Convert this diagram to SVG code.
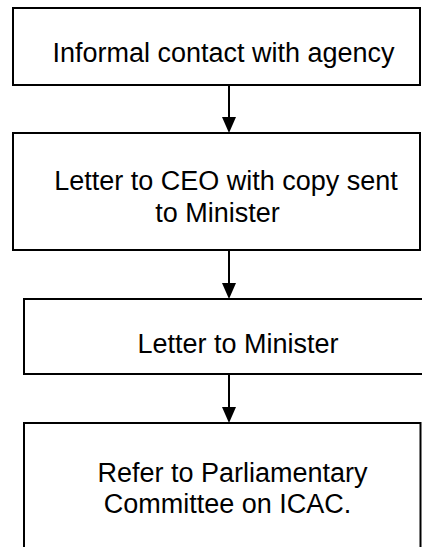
<svg xmlns="http://www.w3.org/2000/svg" width="422" height="547" viewBox="0 0 422 547">
  <style>
    .box { fill: #ffffff; stroke: #000000; stroke-width: 2; }
    .lbl { font-family: "Liberation Sans", Arial, sans-serif; font-size: 27px; fill: #000000; text-anchor: middle; }
    .conn { stroke: #000000; stroke-width: 2; fill: none; }
  </style>
  <defs>
    <marker id="arrow" viewBox="0 0 16 14" markerWidth="16" markerHeight="14" refX="0" refY="7" orient="auto" markerUnits="userSpaceOnUse">
      <path d="M0,0 L16,7 L0,14 Z" fill="#000000"/>
    </marker>
  </defs>
  <rect width="422" height="547" fill="#ffffff"/>
  <g id="node-informal">
    <rect class="box" x="13" y="8" width="407" height="77"/>
    <text class="lbl" x="223.5" y="62">Informal contact with agency</text>
  </g>
  <g id="node-letter-ceo">
    <rect class="box" x="13" y="133" width="407" height="117"/>
    <text class="lbl" x="226" y="190">Letter to CEO with copy sent</text>
    <text class="lbl" x="217.5" y="222">to Minister</text>
  </g>
  <g id="node-letter-minister">
    <rect class="box" x="24" y="299" width="400" height="75"/>
    <text class="lbl" x="238" y="353">Letter to Minister</text>
  </g>
  <g id="node-refer">
    <rect class="box" x="24" y="423" width="396.5" height="130"/>
    <text class="lbl" x="232.5" y="482">Refer to Parliamentary</text>
    <text class="lbl" x="227.5" y="513">Committee on ICAC.</text>
  </g>
  <g id="connectors">
    <line class="conn" x1="229" y1="85" x2="229" y2="117" marker-end="url(#arrow)"/>
    <line class="conn" x1="229" y1="250" x2="229" y2="283" marker-end="url(#arrow)"/>
    <line class="conn" x1="229" y1="374" x2="229" y2="407" marker-end="url(#arrow)"/>
  </g>
</svg>
